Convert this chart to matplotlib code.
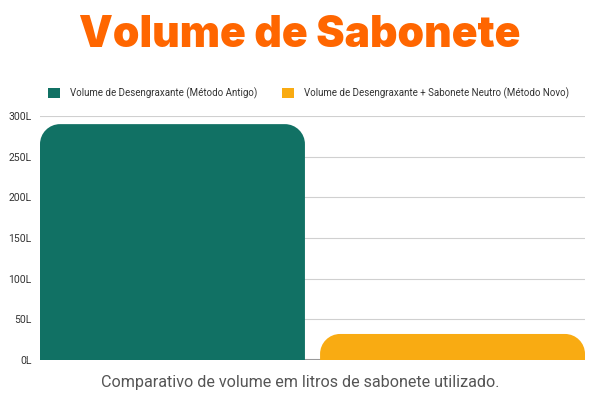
import matplotlib.pyplot as plt
from matplotlib.path import Path
from matplotlib.patches import PathPatch, Patch

# Dados do gráfico
series = ['Volume de Desengraxante (Método Antigo)',
          'Volume de Desengraxante + Sabonete Neutro (Método Novo)']
volumes = [290, 32]
cores = ['#117164', '#F9AB12']
yticks = [0, 50, 100, 150, 200, 250, 300]
ytick_labels = ['0L', '50L', '100L', '150L', '200L', '250L', '300L']

plt.rcParams['font.family'] = ['Roboto', 'DejaVu Sans']

fig = plt.figure(figsize=(6, 4), dpi=100)
ax = fig.add_axes([40 / 600, 0.1, 545 / 600, 0.61])

largura = 0.946
posicoes = list(range(len(volumes)))
ax.set_xlim(-largura / 2, posicoes[-1] + largura / 2)
ax.set_ylim(0, 300)


def barra_arredondada(x0, x1, h, rx, ry):
    # barra com cantos superiores arredondados (coordenadas de dados)
    ry = min(ry, h)
    k = 0.5523
    verts = [(x0, 0), (x0, h - ry),
             (x0, h - ry + k * ry), (x0 + rx - k * rx, h), (x0 + rx, h),
             (x1 - rx, h),
             (x1 - rx + k * rx, h), (x1, h - ry + k * ry), (x1, h - ry),
             (x1, 0), (x0, 0)]
    codes = [Path.MOVETO, Path.LINETO,
             Path.CURVE4, Path.CURVE4, Path.CURVE4,
             Path.LINETO,
             Path.CURVE4, Path.CURVE4, Path.CURVE4,
             Path.LINETO, Path.CLOSEPOLY]
    return Path(verts, codes)


fig.canvas.draw()
bbox = ax.get_window_extent()
raio_px = 20
xr = ax.get_xlim()[1] - ax.get_xlim()[0]
rx = raio_px * xr / bbox.width
ry = raio_px * 300 / bbox.height

for pos, vol, cor in zip(posicoes, volumes, cores):
    p = barra_arredondada(pos - largura / 2, pos + largura / 2, vol, rx, ry)
    ax.add_patch(PathPatch(p, facecolor=cor, edgecolor='none', zorder=3))

ax.set_yticks(yticks)
ax.set_yticklabels(ytick_labels, fontsize=7.5, color='#333333')
ax.set_xticks([])
ax.tick_params(axis='y', length=0, pad=6)
ax.grid(axis='y', color='#d0d0d0', linewidth=0.8, zorder=0)
ax.axhline(0, color='#999999', linewidth=1.5, zorder=2)
for s in ax.spines.values():
    s.set_visible(False)

handles = [Patch(facecolor=c, edgecolor='none') for c in cores]
fig.legend(handles, series, loc='center left', bbox_to_anchor=(0.065, 0.767),
           ncol=2, frameon=False, fontsize=7, handlelength=1.3, handleheight=1.3,
           columnspacing=2.5, handletextpad=1.0, labelcolor='#333333')

fig.text(0.5, 0.912, 'Volume de Sabonete', ha='center', va='center',
         fontsize=30.7, fontweight='black', color='#FF6600',
         family=['Inter', 'DejaVu Sans'])
fig.text(0.5, 0.045, 'Comparativo de volume em litros de sabonete utilizado.',
         ha='center', va='center', fontsize=11.6, color='#555555')

fig.savefig('out.png', dpi=100)
